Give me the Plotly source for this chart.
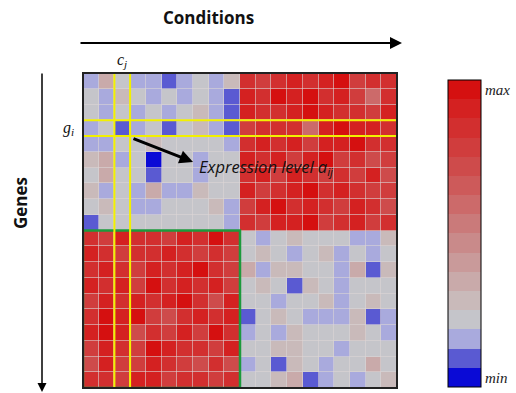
import plotly.graph_objects as go

# expression levels: 0 = min (dark blue) ... 15 = max (dark red)
top_left = [
    [2, 5, 3, 2, 2, 1, 2, 3, 2, 4],
    [3, 2, 4, 3, 2, 3, 2, 3, 2, 1],
    [3, 2, 3, 2, 3, 2, 3, 4, 2, 1],
    [2, 3, 1, 2, 3, 1, 3, 4, 2, 1],
    [2, 2, 3, 3, 4, 3, 3, 3, 3, 2],
    [4, 5, 2, 3, 0, 3, 3, 2, 3, 3],
    [3, 5, 3, 3, 1, 3, 3, 2, 3, 3],
    [4, 2, 3, 2, 5, 2, 2, 4, 3, 3],
    [3, 4, 3, 2, 2, 3, 3, 3, 4, 2],
    [1, 3, 3, 3, 3, 3, 3, 3, 3, 2],
]
top_right = [
    [13, 12, 13, 14, 13, 14, 15, 12, 13, 13],
    [14, 13, 15, 14, 15, 13, 14, 12, 9, 13],
    [14, 13, 13, 14, 15, 14, 13, 13, 12, 14],
    [12, 13, 13, 13, 9, 14, 15, 14, 14, 13],
    [13, 14, 13, 14, 12, 14, 14, 15, 13, 13],
    [14, 13, 14, 12, 14, 15, 12, 13, 11, 12],
    [13, 14, 12, 14, 13, 12, 13, 12, 14, 11],
    [14, 12, 13, 14, 15, 13, 14, 13, 12, 12],
    [12, 14, 15, 13, 14, 13, 12, 14, 13, 11],
    [13, 12, 14, 14, 15, 12, 13, 14, 12, 13],
]
bottom_left = [
    [13, 12, 14, 13, 13, 12, 14, 13, 15, 13],
    [14, 13, 12, 13, 13, 14, 13, 12, 13, 12],
    [13, 14, 13, 12, 14, 13, 14, 15, 13, 12],
    [14, 13, 14, 12, 15, 13, 14, 13, 14, 12],
    [12, 14, 13, 14, 13, 14, 15, 13, 11, 14],
    [13, 15, 14, 15, 12, 11, 13, 14, 13, 14],
    [14, 15, 14, 11, 13, 12, 14, 12, 15, 13],
    [12, 14, 13, 12, 15, 14, 13, 13, 12, 14],
    [11, 14, 12, 12, 14, 13, 12, 11, 13, 11],
    [13, 13, 12, 14, 14, 12, 13, 13, 12, 13],
]
bottom_right = [
    [3, 2, 3, 4, 3, 3, 3, 2, 2, 4],
    [3, 4, 3, 2, 3, 4, 2, 3, 2, 3],
    [5, 2, 4, 4, 3, 3, 2, 5, 1, 4],
    [3, 4, 3, 1, 4, 3, 2, 3, 3, 3],
    [3, 3, 2, 3, 3, 4, 2, 3, 4, 3],
    [1, 3, 4, 3, 2, 2, 2, 4, 1, 2],
    [2, 3, 2, 4, 3, 3, 3, 4, 3, 2],
    [3, 3, 4, 4, 3, 3, 2, 3, 3, 3],
    [2, 3, 1, 4, 3, 2, 3, 3, 5, 3],
    [3, 3, 4, 5, 1, 2, 3, 2, 3, 4],
]
level_colors = [
    "#0a0ad6", "#5a5ad2", "#a9aadd", "#c5c5ca", "#c9baba", "#c9aaaa",
    "#c99a9a", "#c98a8a", "#ca7a7a", "#cc6a6a", "#cd5a5a", "#ce4b4b",
    "#d03d3d", "#d22f2f", "#d42121", "#d51010",
]
bar_labels = ["min", "max"]

z = [l + r for l, r in zip(top_left, top_right)] + \
    [l + r for l, r in zip(bottom_left, bottom_right)]
n = len(level_colors)
colorscale = []
for i, c in enumerate(level_colors):
    colorscale.append([i / n, c])
    colorscale.append([(i + 1) / n, c])

W, H = 516, 393
L, R, T, B = 83, 397, 73, 388
pw, ph = R - L, B - T


def px(x):
    return (x - L) / pw


def py(y):
    return (B - y) / ph


fig = go.Figure(go.Heatmap(
    z=z, zmin=-0.5, zmax=n - 0.5, colorscale=colorscale,
    xgap=0.6, ygap=0.6, hoverinfo="skip",
    colorbar=dict(
        x=px(448), xanchor="left", xpad=0,
        y=py(233.5), yanchor="middle", ypad=0,
        len=307, lenmode="pixels", thickness=33,
        outlinecolor="black", outlinewidth=1,
        tickvals=[0, n - 1], ticktext=bar_labels, ticks="",
        tickfont=dict(family="Liberation Serif", size=15, color="#222",
                      style="italic"),
    ),
))

nr, nc = len(z), len(z[0])
shapes = [
    dict(type="rect", xref="x", yref="y", x0=-0.5, x1=nc / 2 - 0.5,
         y0=nr / 2 - 0.5, y1=nr - 0.5, line=dict(color="#1c9a3c", width=2.5)),
    dict(type="rect", xref="x", yref="y", x0=-0.5, x1=nc - 0.5,
         y0=2.5, y1=3.5, line=dict(color="#f2f000", width=2)),
    dict(type="rect", xref="x", yref="y", x0=1.5, x1=2.5,
         y0=-0.5, y1=nr - 0.5, line=dict(color="#f2f000", width=2)),
    dict(type="rect", xref="paper", yref="paper", x0=0, x1=1, y0=0, y1=1,
         line=dict(color="#222", width=2)),
]


def label(x, y, text, family, size, xanchor="center", angle=0):
    return dict(xref="paper", yref="paper", x=px(x), y=py(y), text=text,
                xanchor=xanchor, yanchor="middle", textangle=angle,
                showarrow=False, font=dict(family=family, size=size, color="#111"))


def arrow(x, y, ax, ay, width, size):
    return dict(xref="paper", yref="paper", x=px(x), y=py(y), ax=ax, ay=ay,
                text="", showarrow=True, arrowhead=2, arrowsize=size,
                arrowwidth=width, arrowcolor="black")


ann = [
    label(208, 18, "<b>Conditions</b>", "Open Sans", 17),
    label(20, 203, "<b>Genes</b>", "Open Sans", 17, angle=-90),
    arrow(402, 43, -323, 0, 2, 1.2),
    arrow(42, 392, 0, -320, 1.5, 1.2),
    arrow(193, 162, -61, -24, 3, 0.9),
    label(197, 167, "<i>Expression level a<sub>ij</sub></i>", "Open Sans", 16.5,
          xanchor="left"),
    label(122, 61, "<i>c<sub>j</sub></i>", "Liberation Serif", 16),
    label(68, 128, "<i>g<sub>i</sub></i>", "Liberation Serif", 16),
]

fig.update_layout(
    width=W, height=H,
    margin=dict(l=L, r=W - R, t=T, b=H - B),
    paper_bgcolor="white", plot_bgcolor="#ddd6d6",
    xaxis=dict(visible=False, range=[-0.5, nc - 0.5], constrain="domain"),
    yaxis=dict(visible=False, range=[nr - 0.5, -0.5]),
    shapes=shapes, annotations=ann, showlegend=False,
)
fig.write_html("out.html", config={"displayModeBar": False},
               post_script="document.body.style.margin='0px';"
                           "document.body.style.overflow='hidden';")
